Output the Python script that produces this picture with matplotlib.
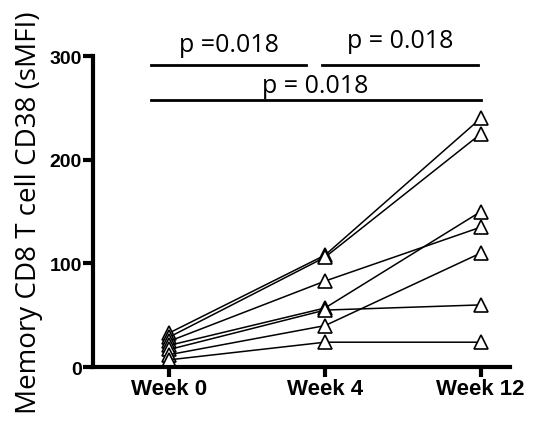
import numpy as np
import matplotlib.pyplot as plt

weeks = ["Week 0", "Week 4", "Week 12"]

# one row per subject: week 0, week 4, week 12
subjects = [
    [33, 108, 240],
    [29, 106, 225],
    [25, 83, 135],
    [21, 57, 150],
    [17, 55, 60],
    [12, 40, 110],
    [7, 24, 24],
]

p_labels = ["p =0.018", "p = 0.018", "p = 0.018"]
p_spans = [(-0.12, 0.88), (0.98, 1.98), (-0.12, 2.0)]
p_bar_y = [292, 292, 258]
p_text_y = [305, 309, 265]

fig = plt.figure(figsize=(5.54, 4.27), dpi=100)
ax = fig.add_axes([0.168, 0.138, 0.753, 0.728])

x = np.arange(len(weeks))
for vals in subjects:
    ax.plot(x, vals, color="black", lw=1.1, marker="^", markersize=10,
            markerfacecolor="white", markeredgecolor="black", markeredgewidth=1.2)

# significance bars
for (x0, x1), yb, yt, lab in zip(p_spans, p_bar_y, p_text_y, p_labels):
    ax.plot([x0, x1], [yb, yb], color="black", lw=2, clip_on=False)
    ax.text((x0 + x1) / 2, yt, lab, ha="center", va="baseline",
            fontsize=18, family="Open Sans")

ax.set_xlim(-0.49, 2.19)
ax.set_ylim(0, 300)
ax.set_yticks([0, 100, 200, 300])
ax.set_xticks(x)
ax.set_xticklabels(weeks, fontweight="bold", fontsize=16, family="Liberation Sans")
for t in ax.get_yticklabels():
    t.set_fontweight("bold")
    t.set_fontsize(14)
    t.set_family("Liberation Sans")
ax.set_ylabel("Memory CD8 T cell CD38 (sMFI)", fontsize=20, family="Open Sans", labelpad=5)

for s in ["top", "right"]:
    ax.spines[s].set_visible(False)
for s in ["left", "bottom"]:
    ax.spines[s].set_linewidth(3)
ax.tick_params(width=3, length=7, pad=1)

fig.savefig("out.png", dpi=100)
